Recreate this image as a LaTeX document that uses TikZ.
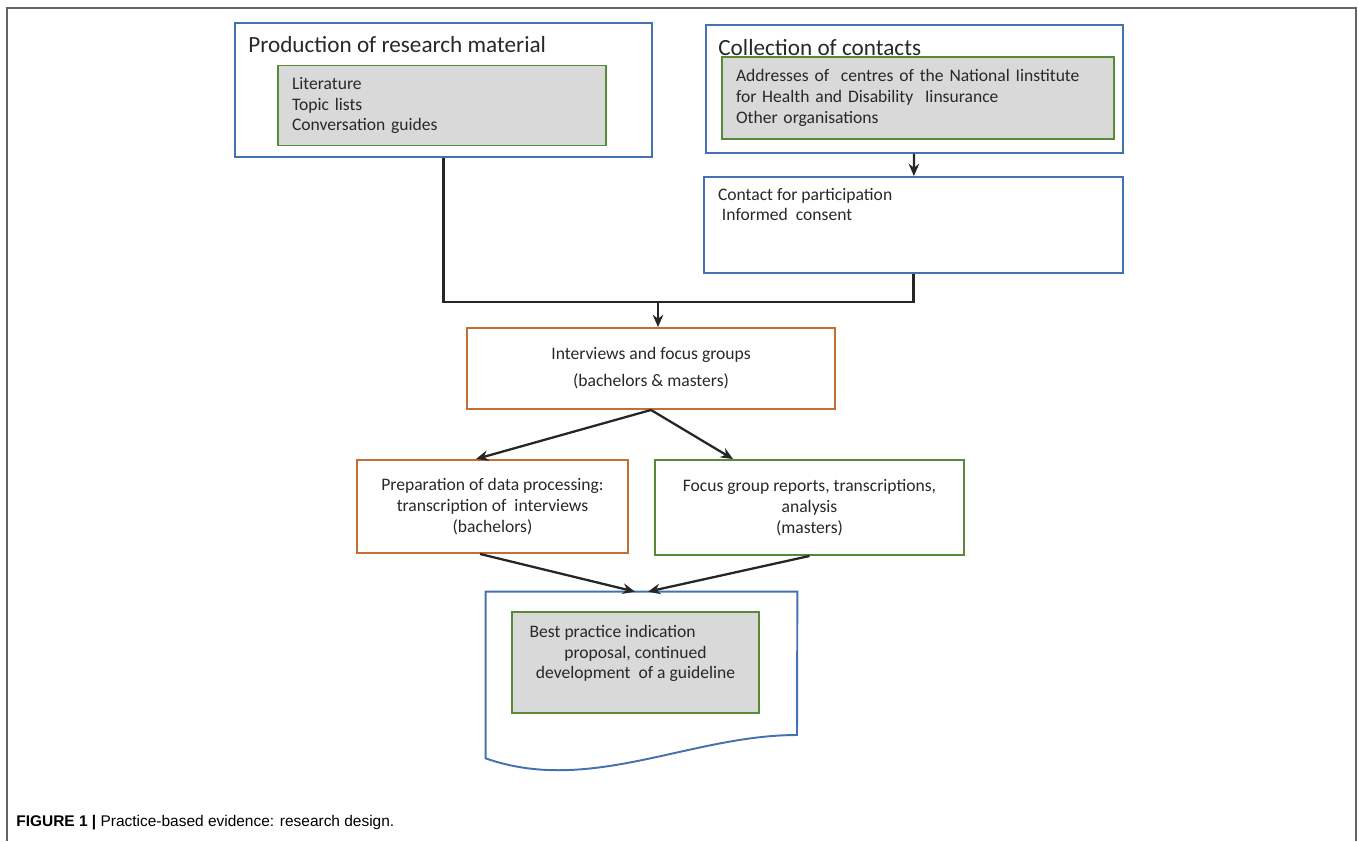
\documentclass[tikz,border=0pt]{standalone}
\usepackage{fontspec}
\setmainfont{Carlito}
\newfontfamily\capfont{Liberation Sans}
\usepackage{tikz}
\usetikzlibrary{arrows.meta}

\definecolor{boxblue}{RGB}{68,114,176}
\definecolor{boxorange}{RGB}{197,110,52}
\definecolor{boxgreen}{RGB}{86,138,54}
\definecolor{boxgray}{RGB}{217,217,217}
\definecolor{textgray}{RGB}{40,40,40}
\definecolor{framegray}{RGB}{100,100,100}

\begin{document}
\begin{tikzpicture}
    \tikzstyle{edge}  = [line width=1.3pt,draw=black!85]
    \tikzstyle{dedge} = [line width=1.3pt,-{Stealth[length=7pt,width=6pt]},draw=black!85]
    \tikzstyle{box}=[
      rectangle,
      line width=1.1pt,
      anchor=center,
      text=textgray,
      font=\fontsize{10}{11.8}\selectfont,
    ]
    \tikzstyle{bluebox}=[box, draw=boxblue]
    \tikzstyle{orangebox}=[box, draw=boxorange, align=center]
    \tikzstyle{greenbox}=[box, draw=boxgreen, align=center]
    \tikzstyle{listbox}=[
      box,
      draw=boxgreen,
      fill=boxgray,
      inner xsep=0.28cm,
    ]
    \tikzstyle{title}=[
      anchor=base west,
      inner sep=0pt,
      text=textgray,
      font=\fontsize{13.2}{15}\selectfont,
    ]

    \coordinate (figAnchor) at (0,0);
    \useasboundingbox (figAnchor) rectangle ([xshift=27.16cm, yshift=-16.82cm] figAnchor);

    % frame
    {
      \draw[line width=1.1pt, draw=framegray]
        ([xshift=0.14cm, yshift=-16.82cm] figAnchor) -- ([xshift=0.14cm, yshift=-0.16cm] figAnchor)
        -- ([xshift=27.12cm, yshift=-0.16cm] figAnchor) -- ([xshift=27.12cm, yshift=-16.82cm] figAnchor);
    }

    % research material
    {
      \node[bluebox, minimum width=8.34cm, minimum height=2.68cm] (prod) at ([xshift=8.87cm, yshift=-1.80cm] figAnchor) {};
      \node[title] (prodTitle) at ([xshift=4.96cm, yshift=-1.04cm] figAnchor) {Production of research material};
      \node[listbox, minimum width=6.56cm, minimum height=1.60cm, text width=6.0cm, align=left] (prodList) at ([xshift=8.84cm, yshift=-2.11cm] figAnchor)
        {Literature\\ Topic lists\\ Conversation guides};
    }

    % contacts
    {
      \node[bluebox, minimum width=8.34cm, minimum height=2.56cm] (collect) at ([xshift=18.29cm, yshift=-1.78cm] figAnchor) {};
      \node[title] (collectTitle) at ([xshift=14.36cm, yshift=-1.10cm] figAnchor) {Collection of contacts};
      \node[listbox, minimum width=7.84cm, minimum height=1.64cm, text width=7.28cm, align=left] (collectList) at ([xshift=18.36cm, yshift=-1.96cm] figAnchor)
        {Addresses of\ \ centres of the National Iinstitute\\ for Health and Disability\ \ Iinsurance\\ Other organisations};

      \node[bluebox, minimum width=8.38cm, minimum height=1.92cm] (contact) at ([xshift=18.27cm, yshift=-4.50cm] figAnchor) {};
      \node[box, anchor=north west, align=left, inner sep=0pt] (contactText) at ([xshift=0.28cm, yshift=-0.22cm] contact.north west)
        {Contact for participation\\ \ Informed\ \ consent};
    }

    % interviews
    {
      \node[orangebox, minimum width=7.36cm, minimum height=1.62cm] (interviews) at ([xshift=13.02cm, yshift=-7.37cm] figAnchor)
        {Interviews and focus groups\\[3.5pt] (bachelors \& masters)};
      \node[orangebox, minimum width=5.42cm, minimum height=1.86cm] (prep) at ([xshift=9.85cm, yshift=-10.13cm] figAnchor)
        {Preparation of data processing:\\ transcription of\ \ interviews\\ (bachelors)};
      \node[greenbox, minimum width=6.18cm, minimum height=1.90cm] (reports) at ([xshift=16.19cm, yshift=-10.15cm] figAnchor)
        {Focus group reports, transcriptions,\\ analysis\\ (masters)};
    }

    % best practice
    {
      \node[minimum width=6.22cm, minimum height=3.52cm] (guide) at ([xshift=12.83cm, yshift=-13.60cm] figAnchor) {};
      \draw[line width=1.1pt, draw=boxblue] ([yshift=0.20cm] guide.south west) -- (guide.north west) -- (guide.north east)
        -- ([xshift=15.94cm, yshift=-14.70cm] figAnchor)
        .. controls ([xshift=13.80cm, yshift=-14.70cm] figAnchor) and ([xshift=11.80cm, yshift=-15.90cm] figAnchor)
        .. ([yshift=0.20cm] guide.south west) -- cycle;
      \node[listbox, minimum width=4.94cm, minimum height=2.02cm, align=center] (guideList) at ([xshift=12.71cm, yshift=-13.25cm] figAnchor)
        {Best practice indication\hspace*{26pt}\\ proposal, continued\\ development\ \ of a guideline\\ \mbox{}};
    }

    % flow
    {
      \coordinate (merge) at ([xshift=13.16cm, yshift=-6.04cm] figAnchor);
      \draw[dedge] (collect) -- (contact);
      \draw[edge] (prod.south) |- (merge) -| (contact.south);
      \draw[dedge] (merge) -- (merge |- interviews.north);
      \draw[dedge] (interviews.south) -- ([xshift=-0.33cm] prep.north);
      \draw[dedge] (interviews.south) -- ([xshift=-1.53cm] reports.north);
      \draw[dedge] ([xshift=-0.25cm] prep.south) -- ([xshift=-0.13cm] guide.north);
      \draw[dedge] (reports.south) -- ([xshift=0.13cm] guide.north);
    }

    % caption
    {
      \node[anchor=base west, inner sep=0pt, font=\capfont\fontsize{8.8}{10}\selectfont] (caption) at ([xshift=0.32cm, yshift=-16.52cm] figAnchor)
        {\textbf{FIGURE 1 |} Practice-based evidence: research design.};
    }
\end{tikzpicture}
\end{document}
